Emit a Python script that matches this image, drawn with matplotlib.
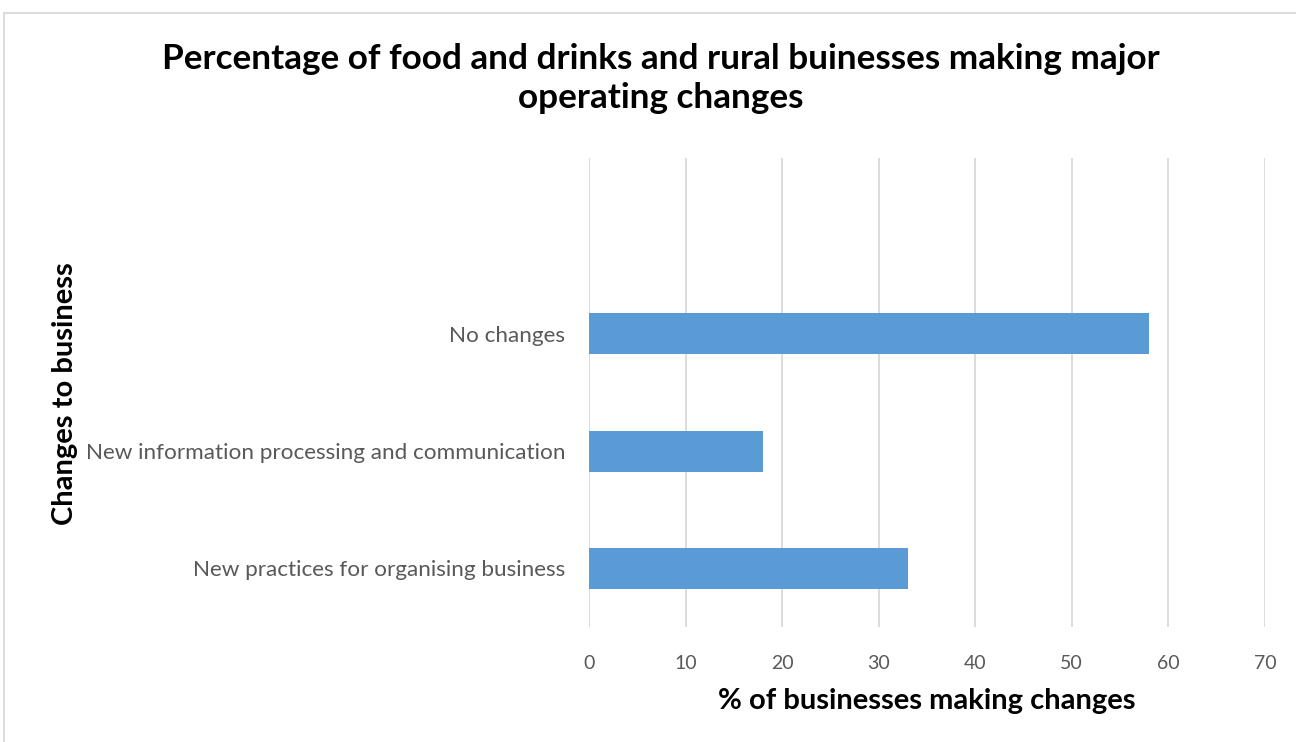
import matplotlib
matplotlib.use("Agg")
import matplotlib.pyplot as plt
from matplotlib.patches import Rectangle

plt.rcParams["font.family"] = ["Lato", "DejaVu Sans"]

categories = ["New practices for organising business",
              "New information processing and communication",
              "No changes"]
values = [33, 18, 58]
xticks = [0, 10, 20, 30, 40, 50, 60, 70]

fig = plt.figure(figsize=(12.96, 7.42), dpi=100)
ax = fig.add_axes([0.4545, 0.155, 0.976 - 0.4545, 0.787 - 0.155])

ax.barh(range(len(categories)), values, height=0.35, color="#5B9BD5", zorder=3)
ax.set_ylim(-0.5, len(categories) + 0.5)
ax.set_xlim(0, 70)
ax.set_xticks(xticks)
ax.set_yticks(range(len(categories)))
ax.set_yticklabels(categories)
ax.grid(axis="x", color="#D9D9D9", linewidth=1.3, zorder=0)
for s in ax.spines.values():
    s.set_visible(False)
ax.tick_params(length=0, labelcolor="#595959")
ax.tick_params(axis="x", pad=20, labelsize=14)
ax.tick_params(axis="y", pad=17, labelsize=16.2)

ax.set_xlabel("% of businesses making changes", fontsize=21, fontweight="bold", labelpad=12)
fig.text(0.05, 0.47, "Changes to business", rotation=90, fontsize=21,
         fontweight="bold", ha="center", va="center")
fig.text(0.51, 0.894, "Percentage of food and drinks and rural buinesses making major\noperating changes",
         fontsize=25.3, fontweight="bold", ha="center", va="center", linespacing=1.25)

# chart frame
fig.patches.append(Rectangle((4 / 1296, -0.01), 1.02, 1 - 13 / 742 + 0.01,
                             transform=fig.transFigure, fill=False,
                             edgecolor="#D9D9D9", linewidth=1.3))

fig.savefig("out.png", dpi=100)
